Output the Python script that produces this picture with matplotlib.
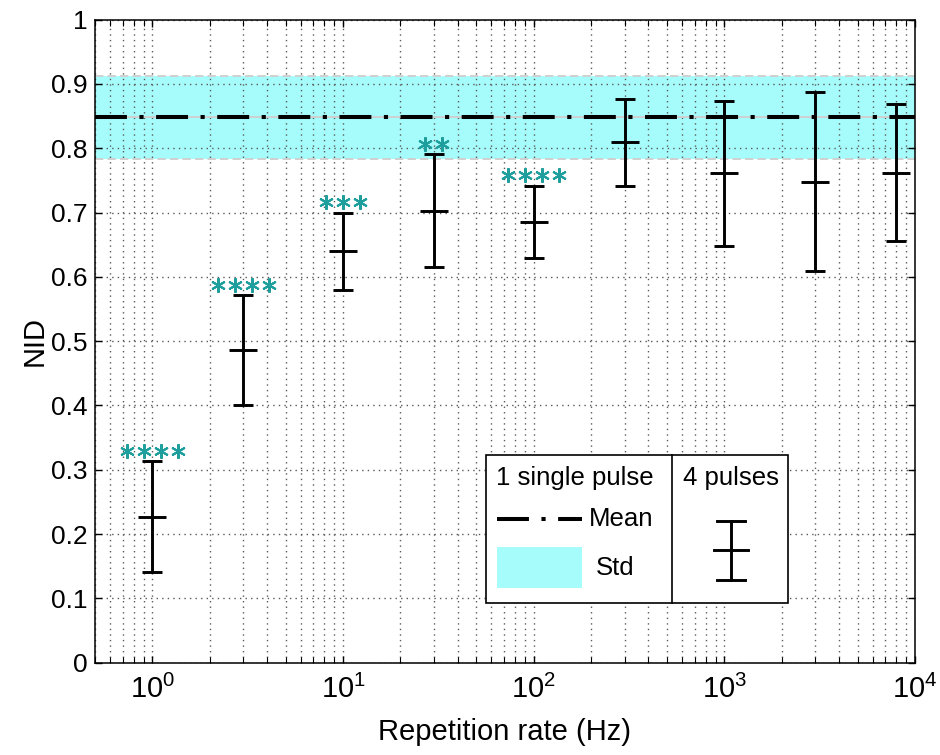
#!/usr/bin/env python3
"""NID vs repetition rate: 4-pulse error bars against the single-pulse mean/std band."""
import math

import matplotlib
matplotlib.use("Agg")
import matplotlib.pyplot as plt
from matplotlib.patches import Rectangle
from matplotlib.lines import Line2D
from matplotlib.ticker import FixedLocator, FuncFormatter, LogLocator, NullFormatter

# data
rates = [1, 3, 10, 30, 100, 300, 1000, 3000, 8000]
nid_mean = [0.227, 0.486, 0.640, 0.703, 0.686, 0.809, 0.761, 0.748, 0.762]
nid_err = [0.086, 0.086, 0.060, 0.088, 0.056, 0.068, 0.113, 0.139, 0.107]
n_stars = [4, 4, 3, 2, 4, 0, 0, 0, 0]

single_mean = 0.848
single_std = 0.064

y_ticks = [0, 0.1, 0.2, 0.3, 0.4, 0.5, 0.6, 0.7, 0.8, 0.9, 1.0]

FONT = "Liberation Sans"
TEAL = "#1f9e9e"
CYAN = "#a6fcfb"
GRID = "#5a5a5a"

plt.rcParams["font.family"] = [FONT, "DejaVu Sans"]
plt.rcParams["mathtext.fontset"] = "custom"
plt.rcParams["mathtext.rm"] = FONT
plt.rcParams["mathtext.it"] = FONT
plt.rcParams["mathtext.bf"] = FONT
plt.rcParams["lines.scale_dashes"] = False


def px(x, y):
    # legend layout helper: reference pixel -> axes fraction
    return (x - 95) / 820, (662.7 - y) / 643


fig = plt.figure(figsize=(9.4, 7.55), dpi=100, facecolor="white")
ax = fig.add_axes([0.101, 0.1223, 0.8723, 0.8517])

ax.set_xscale("log")
ax.set_xlim(0.5, 1e4)
ax.set_ylim(0, 1)

# grid (dotted, major + minor on x)
ax.grid(True, which="major", axis="both", linestyle=(0, (1, 3)), color=GRID, lw=1)
ax.grid(True, which="minor", axis="x", linestyle=(0, (1, 3)), color=GRID, lw=1)
ax.set_axisbelow(True)

# single pulse std band + mean
lo, hi = single_mean - single_std, single_mean + single_std
ax.axhspan(lo, hi, facecolor=CYAN, edgecolor="none", zorder=0.5)
for yy in (lo, hi):
    ax.axhline(yy, color="#d0d0d0", lw=1.4, linestyle=(0, (6, 3)), zorder=0.6)
ax.axhline(single_mean, color="#d0d0d0", lw=1.4, zorder=1.5)
ax.axhline(single_mean, color="black", lw=2.9, dashes=(23, 9, 3, 9), zorder=3)

# 4 pulses error bars
ax.errorbar(rates, nid_mean, yerr=nid_err, fmt="none", ecolor="black",
            elinewidth=2.1, capsize=7.5, capthick=2.1, zorder=4)
ax.plot(rates, nid_mean, linestyle="none", marker="_", color="black",
        markersize=20, markeredgewidth=2.1, zorder=4)

# significance stars above each bar
step = 0.089  # decades between stars
for r, m, e, n in zip(rates, nid_mean, nid_err, n_stars):
    if n == 0:
        continue
    xs = [r * 10 ** (step * (i - (n - 1) / 2)) for i in range(n)]
    ax.plot(xs, [m + e + 0.016] * n, linestyle="none", marker=(6, 2, 0),
            color=TEAL, markersize=10.5, markeredgewidth=1.5, zorder=5, clip_on=False)

# ticks
ax.yaxis.set_major_locator(FixedLocator(y_ticks))
ax.yaxis.set_major_formatter(FuncFormatter(lambda v, p: f"{v:g}"))
ax.xaxis.set_major_locator(LogLocator(base=10, numticks=10))
ax.xaxis.set_minor_locator(LogLocator(base=10, subs=range(2, 10), numticks=10))
ax.xaxis.set_major_formatter(FuncFormatter(lambda v, p: r"$10^{%d}$" % round(math.log10(v))))
ax.xaxis.set_minor_formatter(NullFormatter())
ax.tick_params(which="both", direction="in", top=True, right=True, colors="black")
ax.tick_params(axis="y", labelsize=19, pad=5)
ax.tick_params(axis="x", labelsize=21)
ax.tick_params(which="major", length=5, width=1)
ax.tick_params(which="minor", length=4, width=0.8)
ax.tick_params(axis="x", which="major", pad=9)
for sp in ax.spines.values():
    sp.set_linewidth(1.1)
    sp.set_zorder(6)

ax.set_xlabel("Repetition rate (Hz)", fontsize=21, labelpad=10)
ax.set_ylabel("NID", fontsize=21, labelpad=2)

# custom two-column legend
x0, y0 = px(486, 603)
x1, y1 = px(788, 455)
ax.add_patch(Rectangle((x0, y0), x1 - x0, y1 - y0, transform=ax.transAxes,
                       facecolor="white", edgecolor="black", lw=1.2, zorder=10))
xd, _ = px(672, 0)
ax.add_line(Line2D([xd, xd], [y0, y1], transform=ax.transAxes, color="black", lw=1.2, zorder=11))

tx, ty = px(496, 478)
ax.text(tx, ty, "1 single pulse", transform=ax.transAxes, fontsize=18.5, va="center", ha="left", zorder=11)
tx, ty = px(731, 478)
ax.text(tx, ty, "4 pulses", transform=ax.transAxes, fontsize=18.5, va="center", ha="center", zorder=11)

la, ly = px(497, 519)
lb, _ = px(582, 519)
ax.add_line(Line2D([la, lb], [ly, ly], transform=ax.transAxes, color="black", lw=2.9,
                   dashes=(23, 9, 3, 9), zorder=11))
tx, ty = px(589, 519)
ax.text(tx, ty, "Mean", transform=ax.transAxes, fontsize=18.5, va="center", ha="left", zorder=11)

sa, sb = px(497, 588)
sc, sd = px(582, 547)
ax.add_patch(Rectangle((sa, sb), sc - sa, sd - sb, transform=ax.transAxes,
                       facecolor=CYAN, edgecolor="none", zorder=11))
tx, ty = px(596, 568)
ax.text(tx, ty, "Std", transform=ax.transAxes, fontsize=18.5, va="center", ha="left", zorder=11)

# sample error bar in the legend
ex, etop = px(731, 521)
_, emid = px(731, 550)
_, ebot = px(731, 580)
cap = 14 / 820
mid = 17 / 820
ax.add_line(Line2D([ex, ex], [ebot, etop], transform=ax.transAxes, color="black", lw=2.1, zorder=11))
for yy, w in ((etop, cap), (ebot, cap), (emid, mid)):
    ax.add_line(Line2D([ex - w, ex + w], [yy, yy], transform=ax.transAxes, color="black", lw=2.1, zorder=11))

fig.savefig("out.png", dpi=100, facecolor="white")
plt.close(fig)
